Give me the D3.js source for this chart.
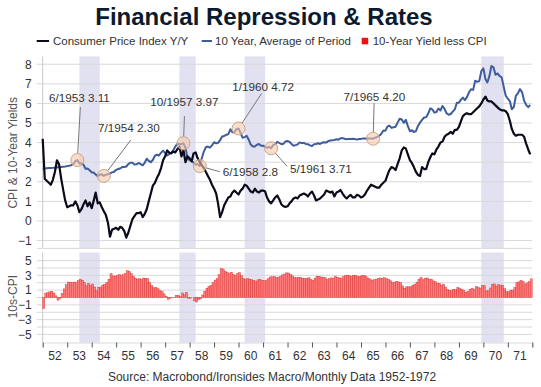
<!DOCTYPE html>
<html>
<head>
<meta charset="utf-8">
<script src="https://cdn.jsdelivr.net/npm/d3@7"></script>
<style>
body { margin: 0; background: #fff; }
text { font-family: Arial, "Liberation Sans", sans-serif; }
</style>
</head>
<body>
<div class="container"></div>
<script>
var WIDTH = 541,
	HEIGHT = 387,
	LEFT = 42.7,
	RIGHT = 532.3;

// ---- data (monthly, Jan 1952 .. Dec 1971) ----
var startYear = 1952;
var yearLabels = ['52','53','54','55','56','57','58','59','60','61','62','63','64','65','66','67','68','69','70','71'];

var cpiYoY = [
	4.2, 2.15, 2.05, 1.95, 1.85, 2.1, 2.5, 3.1, 2.9, 2.2, 1.6, 1.05,
	0.7, 0.75, 0.8, 0.8, 1.0, 0.8, 0.45, 0.6, 0.85, 1.05, 0.75, 0.95,
	0.65, 1.05, 1.45, 0.9, 0.95, 0.7, 0.5, 0.3, -0.1, -0.8, -0.45, -0.4,
	-0.35, -0.45, -0.3, -0.35, -0.5, -0.85, -0.6, -0.25, 0.1, 0.25, 0.4, 0.4,
	0.45, 0.2, 0.35, 0.6, 1.0, 1.4, 1.8, 1.95, 2.2, 2.4, 2.7, 3.1,
	3.3, 3.6, 3.5, 3.45, 3.55, 3.5, 3.65, 3.8, 3.3, 3.6, 3.0, 3.3,
	3.2, 3.05, 3.45, 3.5, 3.2, 3.0, 2.85, 2.7, 2.5, 2.3, 2.1, 1.85,
	1.65, 1.4, 0.9, 0.2, 0.45, 0.8, 1.0, 1.2, 1.25, 1.45, 1.55, 1.45,
	1.35, 1.55, 1.65, 1.85, 1.8, 1.65, 1.5, 1.45, 1.65, 1.5, 1.45, 1.55,
	1.55, 1.5, 1.2, 1.0, 0.9, 1.05, 1.2, 1.3, 1.1, 0.85, 0.75, 0.72,
	0.75, 0.9, 1.0, 1.15, 1.2, 1.15, 1.3, 1.35, 1.4, 1.35, 1.25, 1.4,
	1.5, 1.3, 1.05, 1.1, 1.15, 1.25, 1.35, 1.55, 1.5, 1.45, 1.5, 1.25,
	1.45, 1.5, 1.58, 1.4, 1.25, 1.15, 1.25, 1.33, 1.2, 1.2, 1.33, 1.3,
	1.2, 1.25, 1.35, 1.55, 1.7, 1.85, 1.8, 1.75, 1.7, 1.7, 1.85, 1.95,
	2.05, 2.35, 2.6, 2.75, 2.7, 2.6, 2.9, 3.2, 3.6, 3.75, 3.7, 3.4,
	3.1, 2.95, 2.75, 2.5, 2.35, 2.3, 2.75, 2.65, 2.65, 3.0, 3.25, 3.45,
	3.4, 3.65, 3.8, 4.0, 4.05, 4.3, 4.4, 4.45, 4.55, 4.45, 4.65, 4.65,
	4.8, 5.1, 5.35, 5.45, 5.5, 5.45, 5.45, 5.55, 5.65, 5.75, 5.85, 6.0,
	6.2, 6.35, 6.15, 6.1, 6.1, 6.0, 5.9, 5.8, 5.7, 5.65, 5.65, 5.6,
	5.45, 5.1, 4.7, 4.45, 4.35, 4.4, 4.4, 4.4, 4.3, 3.95, 3.65, 3.4
];

var tenYear = [
	2.68, 2.68, 2.69, 2.70, 2.70, 2.71, 2.72, 2.73, 2.75, 2.76, 2.77, 2.78,
	2.80, 2.82, 2.85, 2.90, 3.05, 3.11, 2.93, 2.95, 2.87, 2.66, 2.68, 2.59,
	2.48, 2.47, 2.37, 2.29, 2.37, 2.38, 2.30, 2.36, 2.38, 2.43, 2.48, 2.51,
	2.61, 2.65, 2.68, 2.75, 2.76, 2.78, 2.90, 2.97, 2.97, 2.88, 2.89, 2.96,
	2.90, 2.84, 2.96, 3.18, 3.07, 3.00, 3.11, 3.33, 3.38, 3.34, 3.49, 3.59,
	3.46, 3.34, 3.41, 3.48, 3.60, 3.80, 3.93, 3.93, 3.92, 3.97, 3.72, 3.21,
	3.09, 3.05, 2.98, 2.88, 2.90, 2.80, 3.20, 3.54, 3.76, 3.80, 3.74, 3.86,
	4.02, 3.96, 3.99, 4.12, 4.31, 4.34, 4.40, 4.43, 4.68, 4.53, 4.53, 4.69,
	4.72, 4.49, 4.25, 4.28, 4.35, 4.15, 3.90, 3.80, 3.80, 3.89, 3.93, 3.84,
	3.84, 3.78, 3.74, 3.78, 3.71, 3.88, 3.92, 4.04, 3.98, 3.92, 3.94, 4.06,
	4.08, 4.04, 3.93, 3.84, 3.87, 3.91, 4.01, 3.98, 3.98, 3.93, 3.92, 3.86,
	3.83, 3.92, 3.93, 3.97, 3.93, 3.99, 4.02, 4.00, 4.08, 4.11, 4.12, 4.13,
	4.17, 4.15, 4.22, 4.23, 4.20, 4.17, 4.19, 4.19, 4.20, 4.19, 4.15, 4.18,
	4.19, 4.21, 4.21, 4.20, 4.21, 4.21, 4.20, 4.25, 4.29, 4.35, 4.45, 4.62,
	4.61, 4.83, 4.87, 4.75, 4.78, 4.81, 5.02, 5.22, 5.18, 5.01, 5.16, 4.84,
	4.58, 4.63, 4.54, 4.59, 4.85, 5.02, 5.16, 5.28, 5.30, 5.48, 5.75, 5.70,
	5.53, 5.56, 5.74, 5.64, 5.87, 5.72, 5.50, 5.42, 5.46, 5.58, 5.70, 6.03,
	6.04, 6.19, 6.30, 6.17, 6.32, 6.57, 6.72, 6.69, 7.16, 7.10, 7.14, 7.65,
	7.79, 7.24, 7.07, 7.39, 7.91, 7.84, 7.46, 7.53, 7.39, 7.33, 6.84, 6.39,
	6.24, 6.11, 5.70, 5.83, 6.39, 6.52, 6.73, 6.58, 6.14, 5.93, 5.81, 5.93
];

// recession shading, [first month, last month]
var recessions = [['1953-07', '1954-05'], ['1957-08', '1958-04'], ['1960-04', '1961-02'], ['1969-12', '1970-11']];

// highlighted 10-year points
var callouts = [
	{ month: '1953-06', label: '6/1953 3.11' },
	{ month: '1954-07', label: '7/1954 2.30' },
	{ month: '1957-10', label: '10/1957 3.97' },
	{ month: '1958-06', label: '6/1958 2.8' },
	{ month: '1960-01', label: '1/1960 4.72' },
	{ month: '1961-05', label: '5/1961 3.71' },
	{ month: '1965-07', label: '7/1965 4.20' }
];

// label placement for each callout (layout only)
var calloutLayout = [
	{ tx: 2, ty: -62, anchor: 'middle', lx: 3, ly: -53 },
	{ tx: 25, ty: -48, anchor: 'middle', lx: 27, ly: -36 },
	{ tx: 1, ty: -41.5, anchor: 'middle', lx: 1, ly: -27 },
	{ tx: 23, ty: 6, anchor: 'start', lx: 20, ly: 5.6 },
	{ tx: 24.5, ty: -41, anchor: 'middle', lx: 23, ly: -35 },
	{ tx: 19, ty: 21, anchor: 'start', lx: 16, ly: 18 },
	{ tx: 1.3, ty: -42, anchor: 'middle', lx: 1, ly: -35.5 }
];

var parseMonth = d3.timeParse('%Y-%m');
var months = cpiYoY.map(function(d, i) { return new Date(startYear, i, 1); });
var series = months.map(function(m, i) {
	return { date: m, cpi: cpiYoY[i], yld: tenYear[i], spread: tenYear[i] - cpiYoY[i] };
});

function translate(x, y) {
	return 'translate(' + x + ',' + y + ')';
}

var svg = d3.select('.container').append('svg')
	.attr('width', WIDTH)
	.attr('height', HEIGHT);

var xScale = d3.scaleTime()
	.domain([new Date(1952, 0, 1), new Date(1972, 0, 1)])
	.range([LEFT, RIGHT]);

var yTop = d3.scaleLinear().domain([-1.4, 8.4]).range([248.4, 56.4]);
var yBot = d3.scaleLinear().domain([-6.1, 6.1]).range([342.5, 252.5]);

// title + legend
svg.append('text')
	.attr('x', 264).attr('y', 25)
	.attr('text-anchor', 'middle')
	.attr('font-size', 24).attr('font-weight', 'bold')
	.attr('fill', '#0b1a2e')
	.text('Financial Repression & Rates');

var legend = svg.append('g').attr('font-size', 11.5).attr('fill', '#333');
legend.append('line').attr('x1', 36.7).attr('x2', 49).attr('y1', 41).attr('y2', 41)
	.attr('stroke', '#0a0a1a').attr('stroke-width', 2);
legend.append('text').attr('x', 53).attr('y', 45).text('Consumer Price Index Y/Y');
legend.append('line').attr('x1', 201.7).attr('x2', 212).attr('y1', 41).attr('y2', 41)
	.attr('stroke', '#3f5d9b').attr('stroke-width', 2);
legend.append('text').attr('x', 215).attr('y', 45).text('10 Year, Average of Period');
legend.append('rect').attr('x', 361.7).attr('y', 37.8).attr('width', 6.5).attr('height', 6.5)
	.attr('fill', '#ee1111');
legend.append('text').attr('x', 372.7).attr('y', 45).text('10-Year Yield less CPI');

// recession bands in both panels
[yTop, yBot].forEach(function(ys) {
	svg.append('g').selectAll('rect')
		.data(recessions).enter()
		.append('rect')
		.attr('x', function(d) { return xScale(parseMonth(d[0])); })
		.attr('width', function(d) { return xScale(parseMonth(d[1])) - xScale(parseMonth(d[0])); })
		.attr('y', ys.range()[1])
		.attr('height', ys.range()[0] - ys.range()[1])
		.attr('fill', '#e1e1f1');
});

// gridlines
function grid(ys, values) {
	svg.append('g').selectAll('line')
		.data(values).enter()
		.append('line')
		.attr('x1', LEFT - 6).attr('x2', RIGHT)
		.attr('y1', function(d) { return ys(d); })
		.attr('y2', function(d) { return ys(d); })
		.attr('stroke', '#d9d9d9').attr('stroke-width', 1);
}
grid(yTop, d3.range(-1, 9));
grid(yBot, d3.range(-5, 6));

// panel frames (left axis line, bottom lines)
svg.append('line').attr('x1', LEFT).attr('x2', LEFT).attr('y1', yTop.range()[1]).attr('y2', yTop.range()[0])
	.attr('stroke', '#c8c8c8');
svg.append('line').attr('x1', LEFT).attr('x2', LEFT).attr('y1', yBot.range()[1]).attr('y2', yBot.range()[0])
	.attr('stroke', '#c8c8c8');
svg.append('line').attr('x1', LEFT - 6).attr('x2', RIGHT).attr('y1', yTop.range()[0]).attr('y2', yTop.range()[0])
	.attr('stroke', '#d9d9d9');

// y axes
var yAxisTop = d3.axisLeft(yTop).tickValues(d3.range(-1, 9)).tickSize(0).tickPadding(11);
var yAxisBot = d3.axisLeft(yBot).tickValues([-5, -3, -1, 1, 3, 5]).tickSize(0).tickPadding(11);

[svg.append('g').attr('transform', translate(LEFT, 0)).call(yAxisTop),
 svg.append('g').attr('transform', translate(LEFT, 0)).call(yAxisBot)].forEach(function(g) {
	g.select('.domain').remove();
	g.selectAll('text').attr('font-size', 12).attr('fill', '#333')
		.attr('font-family', 'Arial, "Liberation Sans", sans-serif');
});

// x axis
var xAxis = d3.axisBottom(xScale)
	.ticks(d3.timeYear.every(1))
	.tickSize(5)
	.tickFormat('');
var xAxisGroup = svg.append('g')
	.attr('transform', translate(0, yBot.range()[0]))
	.call(xAxis);
xAxisGroup.select('.domain').attr('stroke', '#d9d9d9');
xAxisGroup.selectAll('.tick line').attr('stroke', '#555');

svg.append('g').selectAll('text')
	.data(yearLabels).enter()
	.append('text')
	.attr('x', function(d, i) { return xScale(new Date(startYear + i, 6, 1)); })
	.attr('y', 360)
	.attr('text-anchor', 'middle')
	.attr('font-size', 12).attr('fill', '#333')
	.text(function(d) { return d; });

// axis titles
svg.append('text')
	.attr('transform', translate(16.5, 152.8) + ' rotate(-90)')
	.attr('text-anchor', 'middle')
	.attr('font-size', 12).attr('fill', '#555')
	.text('CPI & 10-Year Yields');
svg.append('text')
	.attr('transform', translate(16.5, 296.7) + ' rotate(-90)')
	.attr('text-anchor', 'middle')
	.attr('font-size', 12).attr('fill', '#555')
	.text('10s-CPI');

// spread bars
var step = xScale(months[1]) - xScale(months[0]);
svg.append('g').selectAll('rect')
	.data(series).enter()
	.append('rect')
	.attr('x', function(d) { return xScale(d.date); })
	.attr('width', step)
	.attr('y', function(d) { return Math.min(yBot(0), yBot(d.spread)); })
	.attr('height', function(d) { return Math.abs(yBot(d.spread) - yBot(0)); })
	.attr('fill', '#ff7a7a')
	.attr('stroke', '#d42020')
	.attr('stroke-width', 0.35);

// lines
var yieldLine = d3.line()
	.x(function(d) { return xScale(d.date); })
	.y(function(d) { return yTop(d.yld); });
var cpiLine = d3.line()
	.x(function(d) { return xScale(d.date); })
	.y(function(d) { return yTop(d.cpi); });

svg.append('path').datum(series)
	.attr('d', yieldLine)
	.attr('fill', 'none').attr('stroke', '#3f5d9b').attr('stroke-width', 2)
	.attr('stroke-linejoin', 'round');
svg.append('path').datum(series)
	.attr('d', cpiLine)
	.attr('fill', 'none').attr('stroke', '#0a0a1a').attr('stroke-width', 2.2)
	.attr('stroke-linejoin', 'round');

// callouts
var calloutGroup = svg.append('g');
callouts.forEach(function(c, i) {
	var m = parseMonth(c.month);
	var idx = (m.getFullYear() - startYear) * 12 + m.getMonth();
	var px = xScale(m), py = yTop(tenYear[idx]);
	var lay = calloutLayout[i];
	var r = 6.5;
	var len = Math.sqrt(lay.lx * lay.lx + lay.ly * lay.ly);
	calloutGroup.append('line')
		.attr('x1', px + lay.lx * r / len).attr('y1', py + lay.ly * r / len)
		.attr('x2', px + lay.lx).attr('y2', py + lay.ly)
		.attr('stroke', '#777').attr('stroke-width', 1);
	calloutGroup.append('circle')
		.attr('cx', px).attr('cy', py).attr('r', r)
		.attr('fill', 'rgba(246, 200, 168, 0.6)')
		.attr('stroke', '#caa58a').attr('stroke-width', 1);
	calloutGroup.append('text')
		.attr('x', px + lay.tx).attr('y', py + lay.ty + 4)
		.attr('text-anchor', lay.anchor)
		.attr('font-size', 11.7).attr('fill', '#333')
		.text(c.label);
});

// source
svg.append('text')
	.attr('x', 272).attr('y', 381)
	.attr('text-anchor', 'middle')
	.attr('font-size', 12).attr('fill', '#333')
	.text('Source: Macrobond/Ironsides Macro/Monthly Data 1952-1972');
</script>
</body>
</html>
